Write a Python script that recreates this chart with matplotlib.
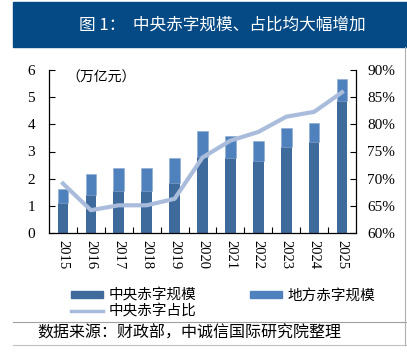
import numpy as np
import matplotlib.pyplot as plt
from matplotlib.lines import Line2D
from matplotlib.patches import Rectangle, Patch

plt.rcParams['font.family'] = ['Liberation Serif', 'Noto Sans CJK SC']
cjk = ['Noto Sans CJK SC', 'DejaVu Sans']

years = ["2015", "2016", "2017", "2018", "2019", "2020",
         "2021", "2022", "2023", "2024", "2025"]
central = [1.12, 1.40, 1.55, 1.55, 1.83, 2.78, 2.75, 2.65, 3.16, 3.34, 4.86]
local = [0.50, 0.78, 0.83, 0.83, 0.93, 0.98, 0.82, 0.72, 0.72, 0.72, 0.80]
share = [69.1, 64.2, 65.1, 65.1, 66.3, 73.9, 77.0, 78.6, 81.4, 82.3, 85.9]

c_central = "#3F6A9C"
c_local = "#4F81BD"
c_line = "#A9BCDC"

fig = plt.figure(figsize=(4.07, 3.58), dpi=100)

# title banner
fig.patches.append(Rectangle((13 / 407, 1 - 47 / 358), 1 - 13 / 407, 45 / 358,
                             transform=fig.transFigure, color="#054A85", zorder=0))
fig.text(0.545, 0.930, "图 1：  中央赤字规模、占比均大幅增加", color="white",
         fontsize=12, ha="center", va="center", family=cjk)

ax = fig.add_axes([49 / 407, 1 - 233 / 358, 307 / 407, 163 / 358])
x = np.arange(len(years))
w = 0.38
ax.bar(x, central, w, color=c_central, zorder=2)
ax.bar(x, local, w, bottom=central, color=c_local, edgecolor="#8EA9D0",
       linewidth=0.4, zorder=2)
ax.set_ylim(0, 6)
ax.set_xlim(-0.5, len(years) - 0.5)
ax.set_yticks(range(7))
ax.set_xticks(x)
ax.set_xticklabels(years, rotation=270, fontsize=10.5)
ax.set_xticks(x[:-1] + 0.5, minor=True)
ax.tick_params(axis="x", which="major", length=0, pad=5)
ax.tick_params(axis="x", which="minor", direction="in", length=4, width=0.8)
ax.tick_params(axis="y", direction="in", length=4, width=0.8, labelsize=11, pad=10)
ax.spines["top"].set_visible(False)
ax.spines["right"].set_visible(False)
for s in ["left", "bottom"]:
    ax.spines[s].set_linewidth(0.9)
ax.text(0.055, 0.955, "（万亿元）", transform=ax.transAxes, fontsize=10,
        va="center", family=cjk)

ax2 = ax.twinx()
ax2.plot(x, share, color=c_line, linewidth=3, zorder=3)
ax2.set_ylim(60, 90)
ax2.set_yticks(range(60, 91, 5))
ax2.set_yticklabels([f"{v}%" for v in range(60, 91, 5)])
ax2.tick_params(axis="y", direction="in", length=4, width=0.8, labelsize=11, pad=8)
ax2.spines["top"].set_visible(False)
ax2.spines["left"].set_visible(False)
ax2.spines["bottom"].set_visible(False)
ax2.spines["right"].set_linewidth(0.9)

handles = [Patch(color=c_central), Line2D([], [], color=c_line, linewidth=2.5),
           Patch(color=c_local)]
labels = ["中央赤字规模", "中央赤字占比", "地方赤字规模"]
fig.legend(handles, labels, loc="upper left", bbox_to_anchor=(64 / 407, 1 - 281 / 358),
           ncol=2, frameon=False, prop={"family": cjk, "size": 10.5},
           handlelength=2.2, handleheight=0.4, handletextpad=0.35,
           columnspacing=3.7, labelspacing=0.15, borderpad=0)

# frame lines and source
fig.add_artist(Line2D([13 / 407, 1], [1 - 322 / 358] * 2, color="#A0A0A0", linewidth=0.8))
fig.add_artist(Line2D([13 / 407, 1], [1 - 345 / 358] * 2, color="#C0C0C0", linewidth=0.8))
fig.add_artist(Line2D([405 / 407] * 2, [1 - 47 / 358, 1 - 345 / 358], color="#B0B0B0", linewidth=0.8))
fig.text(37 / 407, 1 - 333 / 358, "数据来源：财政部，中诚信国际研究院整理", fontsize=11.5,
         va="center", family=cjk)

fig.savefig("out.png", dpi=100)
